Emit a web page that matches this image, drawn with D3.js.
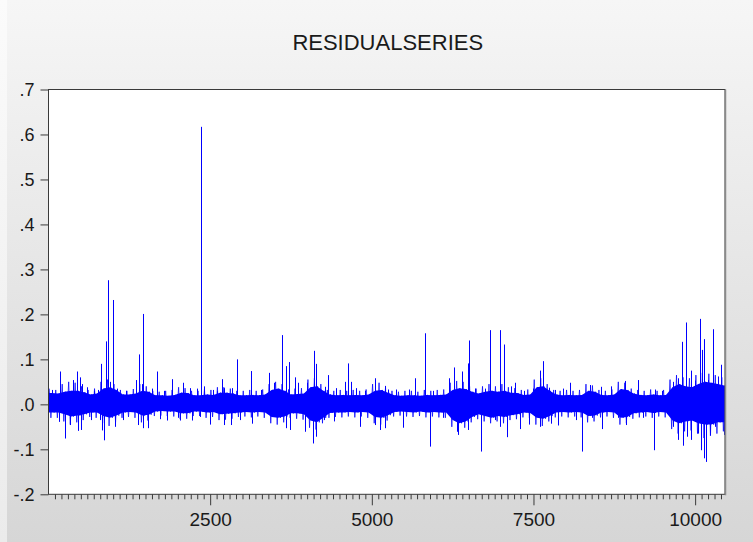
<!DOCTYPE html>
<html>
<head>
<meta charset="utf-8">
<script src="https://cdn.jsdelivr.net/npm/d3@7"></script>
<style>
  body { margin: 0; }
  svg { display: block; font-family: "Liberation Sans", Arial, sans-serif; }
</style>
</head>
<body>
<div id="chart"></div>
<script>
//
// Residual series chart (EViews style)
//

const chartTitle = "RESIDUALSERIES";
const nObs = 10462;
const binSize = 100;

// dense core of the series, upper / lower edge for each block of 100 observations
const coreHi = [
  .025, .024, .028, .030, .030, .027, .022, .024, .035, .038,
  .032, .022, .022, .024, .030, .028, .020, .020, .019, .021,
  .026, .025, .020, .020, .022, .021, .026, .026, .024, .020,
  .020, .021, .020, .022, .032, .035, .030, .022, .023, .024,
  .038, .040, .030, .022, .020, .021, .020, .021, .020, .022,
  .030, .032, .026, .020, .019, .020, .020, .019, .021, .020,
  .021, .022, .032, .036, .034, .028, .024, .028, .030, .028,
  .030, .026, .025, .021, .022, .038, .040, .030, .022, .020,
  .021, .020, .021, .030, .028, .021, .020, .022, .034, .032,
  .024, .021, .020, .022, .020, .021, .038, .045, .040, .038,
  .045, .050, .048, .045, .042
];
const coreLo = [
  -.018, -.018, -.022, -.027, -.025, -.022, -.018, -.018, -.026, -.030,
  -.025, -.018, -.017, -.018, -.025, -.023, -.016, -.015, -.016, -.016,
  -.020, -.020, -.016, -.016, -.018, -.017, -.022, -.021, -.020, -.018,
  -.017, -.018, -.017, -.018, -.028, -.030, -.027, -.020, -.020, -.022,
  -.036, -.040, -.030, -.019, -.018, -.018, -.017, -.018, -.017, -.018,
  -.028, -.030, -.024, -.017, -.016, -.017, -.018, -.016, -.018, -.017,
  -.018, -.018, -.035, -.042, -.038, -.028, -.022, -.026, -.030, -.026,
  -.028, -.024, -.022, -.018, -.019, -.030, -.032, -.026, -.018, -.017,
  -.018, -.017, -.018, -.026, -.025, -.018, -.017, -.018, -.030, -.028,
  -.020, -.018, -.017, -.019, -.017, -.018, -.036, -.042, -.038, -.036,
  -.042, -.045, -.045, -.040, -.040
];

// largest small excursions in each block (outside the core)
const outerHi = [
  .035, .032, .045, .050, .048, .040, .032, .035, .050, .055,
  .045, .032, .030, .034, .045, .040, .030, .028, .030, .032,
  .038, .036, .030, .030, .034, .032, .038, .038, .035, .030,
  .030, .032, .030, .033, .045, .050, .045, .033, .035, .036,
  .055, .058, .045, .032, .030, .032, .030, .032, .030, .033,
  .045, .048, .038, .030, .028, .030, .030, .028, .032, .030,
  .032, .033, .048, .052, .050, .040, .035, .040, .045, .040,
  .045, .038, .036, .032, .033, .055, .058, .045, .032, .030,
  .032, .030, .032, .045, .042, .032, .030, .033, .050, .048,
  .035, .032, .030, .033, .030, .032, .055, .065, .060, .058,
  .065, .070, .068, .065, .060
];
const outerLo = [
  -.030, -.030, -.038, -.045, -.040, -.035, -.028, -.030, -.042, -.048,
  -.040, -.030, -.028, -.030, -.040, -.036, -.026, -.025, -.026, -.027,
  -.033, -.032, -.026, -.026, -.030, -.028, -.035, -.034, -.032, -.028,
  -.027, -.029, -.027, -.030, -.042, -.045, -.040, -.030, -.032, -.034,
  -.052, -.056, -.042, -.030, -.028, -.029, -.027, -.029, -.027, -.030,
  -.042, -.045, -.036, -.027, -.025, -.027, -.028, -.026, -.029, -.027,
  -.029, -.030, -.050, -.058, -.052, -.040, -.033, -.038, -.042, -.038,
  -.042, -.035, -.033, -.029, -.030, -.045, -.048, -.038, -.029, -.027,
  -.029, -.027, -.029, -.040, -.038, -.029, -.027, -.030, -.045, -.042,
  -.032, -.029, -.027, -.030, -.027, -.029, -.055, -.065, -.060, -.058,
  -.065, -.075, -.070, -.065, -.060
];

// single observations sticking out of the core: [observation, residual]
const spikes = [
  [60, .032], [155, -.039], [180, .073], [258, -.076], [335, -.046], [386, .054],
  [438, .073], [453, -.059], [489, .060], [505, -.057], [520, .045], [592, .038],
  [660, -.035], [700, .030], [760, .032], [790, -.035], [814, .090], [820, -.058],
  [851, -.080], [886, .140], [922, .276], [950, .050], [996, .113], [1005, .232],
  [1030, -.050], [1057, .035], [1150, -.035], [1200, .030], [1349, .054], [1390, -.046],
  [1407, .111], [1440, .045], [1459, -.053], [1469, .201], [1545, -.053], [1600, .035],
  [1674, .073], [1717, -.033], [1790, .030], [1840, -.036], [1905, .056], [2000, -.030],
  [2035, -.036], [2086, .048], [2190, .036], [2215, -.036], [2300, .035], [2345, -.028],
  [2356, .617], [2400, .040], [2498, -.045], [2540, .032], [2600, .030],
  [2686, .056], [2712, -.046], [2715, .036], [2830, -.046], [2835, .036], [2918, .100],
  [2960, -.035], [3139, .074], [3145, -.043], [3294, .032], [3412, .070], [3450, -.028],
  [3485, .048], [3618, .154], [3670, .085], [3680, -.053], [3716, .094], [3730, -.057],
  [3809, .060], [3860, .048], [3963, -.061], [4000, .048], [4092, -.087], [4102, .119],
  [4133, .090], [4143, -.072], [4262, -.035], [4270, .039], [4324, .065], [4410, -.038],
  [4452, .036], [4580, .050], [4633, .091], [4684, .050], [4750, .036], [4813, -.050],
  [4900, .030], [5045, .058], [5050, -.046], [5122, -.057], [5200, .041], [5205, -.053],
  [5252, .033], [5380, .033], [5484, -.052], [5571, .033], [5664, .058], [5819, .158],
  [5896, -.094], [5950, .030], [6100, -.030], [6194, .058], [6267, .082], [6310, -.061],
  [6334, -.068], [6395, .073], [6480, -.057], [6488, .091], [6503, .142], [6600, .035],
  [6694, -.105], [6750, .035], [6833, .165], [6900, -.035], [6978, .165], [6985, -.050],
  [7039, .133], [7096, -.073], [7150, .040], [7209, .048], [7286, -.055], [7350, .030],
  [7425, -.045], [7500, .035], [7595, .075], [7600, -.050], [7647, .096], [7740, .037],
  [7775, -.043], [7830, .032],
  [7880, -.047], [7950, .035], [8060, .048], [8150, -.035], [8256, -.105], [8370, .043],
  [8400, -.030], [8550, .039], [8555, -.055], [8700, .040], [8800, -.030], [8910, .052],
  [8935, -.046], [9116, .054], [9200, -.030], [9374, .033], [9370, -.102], [9480, .030],
  [9657, .050], [9660, -.050], [9740, .058], [9735, -.079], [9801, .139], [9811, -.092],
  [9863, .182], [9868, -.072], [9930, .075], [9940, -.079], [10000, .053], [10043, -.065],
  [10069, .190], [10094, -.102], [10110, .121], [10136, .145], [10140, -.120], [10162, -.128],
  [10200, .054], [10225, -.068], [10275, .167], [10300, -.050], [10350, .062], [10404, .088],
  [10440, .040], [10442, -.068], [10455, -.124]
];

const yTicks = [.7, .6, .5, .4, .3, .2, .1, 0, -.1, -.2];
const xMajorTicks = [2500, 5000, 7500, 10000];
const xMinorStep = 100;

const width = 753;
const height = 542;
const plotLeft = 48.5, plotRight = 725, plotTop = 89.5, plotBottom = 494.3;

var svg = d3.select("#chart")
    .append("svg")
    .attr("width", width)
    .attr("height", height);

// background
var defs = svg.append("defs");
var bg = defs.append("linearGradient").attr("id", "bgGrad").attr("x1", 0).attr("y1", 0).attr("x2", 0).attr("y2", 1);
bg.append("stop").attr("offset", "0%").attr("stop-color", "#f6f6f6");
bg.append("stop").attr("offset", "100%").attr("stop-color", "#d6d6d6");
var bgLeft = defs.append("linearGradient").attr("id", "bgLeft").attr("x1", 0).attr("y1", 0).attr("x2", 0).attr("y2", 1);
bgLeft.append("stop").attr("offset", "0%").attr("stop-color", "#fbfbfb");
bgLeft.append("stop").attr("offset", "100%").attr("stop-color", "#ebebeb");

defs.append("clipPath").attr("id", "plotClip")
    .append("rect")
    .attr("x", plotLeft).attr("y", plotTop)
    .attr("width", plotRight - plotLeft).attr("height", plotBottom - plotTop);

svg.append("rect").attr("width", width).attr("height", height).attr("fill", "url(#bgGrad)");
svg.append("rect").attr("width", 7).attr("height", height).attr("fill", "url(#bgLeft)");

svg.append("rect")
    .attr("x", plotLeft).attr("y", plotTop)
    .attr("width", plotRight - plotLeft).attr("height", plotBottom - plotTop)
    .attr("fill", "#ffffff");

var x = d3.scaleLinear().domain([0, nObs]).range([plotLeft, plotRight]);
var y = d3.scaleLinear().domain([-0.2, 0.7]).range([plotBottom, plotTop]);

var plot = svg.append("g").attr("clip-path", "url(#plotClip)");

// solid core: one point per block at its centre, held out to both ends
var corePts = coreHi.map(function (hi, i) {
    return { x: Math.min(i * binSize + binSize / 2, nObs), hi: hi, lo: coreLo[i] };
});
corePts.unshift({ x: 0, hi: coreHi[0], lo: coreLo[0] });
corePts.push({ x: nObs, hi: coreHi[coreHi.length - 1], lo: coreLo[coreLo.length - 1] });

plot.append("path")
    .datum(corePts)
    .attr("fill", "#0000ff")
    .attr("d", d3.area()
        .x(d => x(d.x))
        .y0(d => y(d.lo))
        .y1(d => y(d.hi)));

// the series itself inside each block: up to its outer high, down to its outer low,
// back through the core edges
var seriesPts = [];
coreHi.forEach(function (hi, i) {
    var s = i * binSize;
    seriesPts.push([s + 12, outerHi[i]]);
    seriesPts.push([s + 37, outerLo[i]]);
    seriesPts.push([s + 62, hi]);
    seriesPts.push([s + 87, coreLo[i]]);
});

plot.append("path")
    .datum(seriesPts.filter(d => d[0] <= nObs))
    .attr("fill", "none")
    .attr("stroke", "#0000ff")
    .attr("stroke-width", 1)
    .attr("stroke-opacity", 0.75)
    .attr("d", d3.line().x(d => x(d[0])).y(d => y(d[1])));

plot.append("g")
    .selectAll("line")
    .data(spikes)
    .join("line")
    .attr("x1", d => Math.round(x(d[0])) + 0.5)
    .attr("x2", d => Math.round(x(d[0])) + 0.5)
    .attr("y1", y(0))
    .attr("y2", d => y(d[1]))
    .attr("stroke", "#0000ff")
    .attr("stroke-width", 1);

// frame
svg.append("rect")
    .attr("x", plotLeft).attr("y", plotTop)
    .attr("width", plotRight - plotLeft).attr("height", plotBottom - plotTop)
    .attr("fill", "none")
    .attr("stroke", "#3a3a3a")
    .attr("stroke-width", 1);
svg.append("line")
    .attr("x1", plotRight + 0.5).attr("x2", plotRight + 0.5)
    .attr("y1", plotTop).attr("y2", plotBottom + 1)
    .attr("stroke", "#8a8a8a").attr("stroke-width", 1.5);

// y axis
var fmt = function (v) {
    return (v < 0 ? "-" : "") + Math.abs(v).toFixed(1).replace(/^0/, "");
};
var yAxis = svg.append("g")
    .attr("transform", "translate(" + plotLeft + ",0)")
    .call(d3.axisLeft(y).tickValues(yTicks).tickFormat(fmt).tickSize(8).tickPadding(6));
yAxis.select(".domain").remove();
yAxis.selectAll("line").attr("stroke", "#3a3a3a");
yAxis.selectAll("text").attr("font-size", "18px").attr("fill", "#1a1a1a")
    .attr("font-family", "'Liberation Sans', Arial, sans-serif");

// x axis: minor ticks every 100, labelled ticks every 2500
var minorTicks = d3.range(xMinorStep, nObs, xMinorStep).filter(v => xMajorTicks.indexOf(v) < 0);
var xMinor = svg.append("g")
    .attr("transform", "translate(0," + plotBottom + ")")
    .call(d3.axisBottom(x).tickValues(minorTicks).tickFormat("").tickSize(5));
xMinor.select(".domain").remove();
xMinor.selectAll("line").attr("stroke", "#3a3a3a");

var xAxis = svg.append("g")
    .attr("transform", "translate(0," + plotBottom + ")")
    .call(d3.axisBottom(x).tickValues(xMajorTicks).tickFormat(d3.format("d")).tickSize(11).tickPadding(7));
xAxis.select(".domain").remove();
xAxis.selectAll("line").attr("stroke", "#3a3a3a");
xAxis.selectAll("text").attr("font-size", "19px").attr("fill", "#1a1a1a")
    .attr("font-family", "'Liberation Sans', Arial, sans-serif");

// title
svg.append("text")
    .attr("x", (plotLeft + plotRight) / 2 + 1)
    .attr("y", 50)
    .attr("text-anchor", "middle")
    .attr("font-size", "22px")
    .attr("fill", "#1a1a1a")
    .text(chartTitle);
</script>
</body>
</html>
